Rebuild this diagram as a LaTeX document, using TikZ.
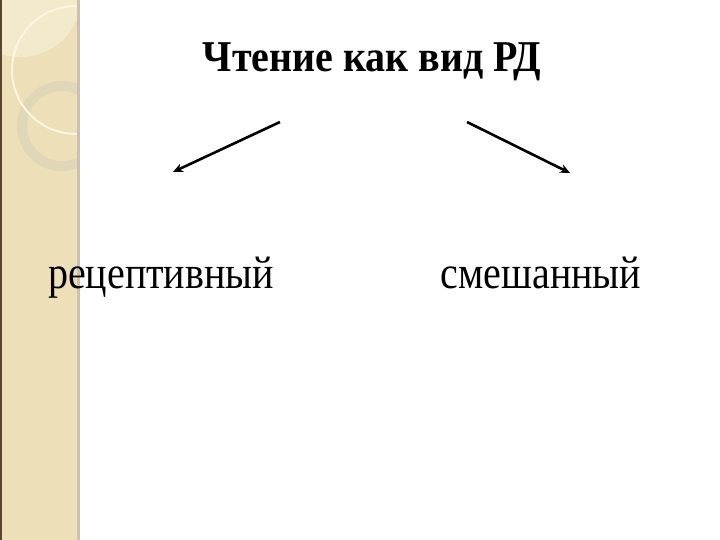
\documentclass[tikz,border=0pt]{standalone}
\usepackage{fontspec}
\setmainfont{Liberation Serif}
\usetikzlibrary{arrows.meta}
\definecolor{band}{HTML}{EDE0B8}
\definecolor{bandlight}{HTML}{F3EACB}
\definecolor{bandedge}{HTML}{5C4630}
\definecolor{ringc}{HTML}{E0D6B8}
\definecolor{arcw}{HTML}{FBF5E2}
\definecolor{sepc}{HTML}{CDBFB4}
\tikzset{
  lbl/.style={font=\fontsize{40}{44}\selectfont, inner sep=0pt, anchor=base},
  arr/.style={line width=2.6pt, -{Stealth[length=10pt,width=9pt]}}
}
\newcommand{\tallish}[2]{\scalebox{1}[#1]{#2}}
\begin{document}
\begin{tikzpicture}[x=1pt,y=-1pt]
\useasboundingbox (0,0) rectangle (720,540);
\fill[white] (0,0) rectangle (720,540);
% decorative band
\begin{scope}
\clip (0,0) rectangle (78,540);
\fill[band] (0,0) rectangle (78,540);
\fill[bandlight] (20,-5) circle (62);
\draw[ringc, line width=10pt] (62,126) circle (40);
\draw[arcw, line width=2pt] (76,70) circle (64);
\end{scope}
\fill[bandedge] (0,0) rectangle (2,540);
\fill[sepc] (77,0) rectangle (80,540);
% texts
\node[lbl, font=\fontsize{40}{44}\selectfont\bfseries] (t) at (372,72) {\tallish{1.1}{Чтение как вид РД}};
\node[lbl] (r) at (161,288) {\tallish{1.15}{рецептивный}};
\node[lbl] (s) at (541,288) {\tallish{1.15}{смешанный}};
\coordinate (a1) at (280,122);
\coordinate (a2) at (467,122);
\coordinate (e1) at (173,172);
\coordinate (e2) at (570,173);
\draw[arr] (a1) -- (e1);
\draw[arr] (a2) -- (e2);
\end{tikzpicture}
\end{document}
